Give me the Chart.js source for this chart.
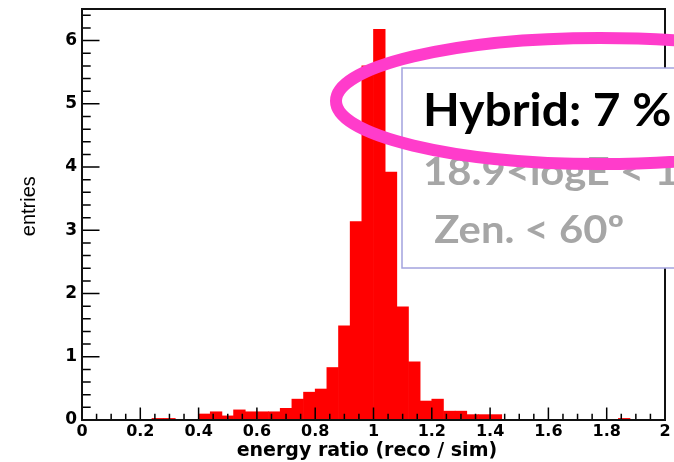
<!DOCTYPE html>
<html>
<head>
<meta charset="utf-8">
<script src="https://cdn.jsdelivr.net/npm/chart.js@4/dist/chart.umd.min.js"></script>
<style>
  html, body { margin: 0; padding: 0; background: #fff; }
  #wrap { width: 674px; height: 462px; position: relative; }
</style>
</head>
<body>
<div id="wrap"><canvas id="myChart"></canvas></div>
<script>
// bin centres of the histogram (bin width 0.04)
const binCenters = [
  0.02, 0.06, 0.10, 0.14, 0.18, 0.22, 0.26, 0.30, 0.34, 0.38,
  0.42, 0.46, 0.50, 0.54, 0.58, 0.62, 0.66, 0.70, 0.74, 0.78,
  0.82, 0.86, 0.90, 0.94, 0.98, 1.02, 1.06, 1.10, 1.14, 1.18,
  1.22, 1.26, 1.30, 1.34, 1.38, 1.42, 1.46, 1.50, 1.54, 1.58,
  1.62, 1.66, 1.70, 1.74, 1.78, 1.82, 1.86, 1.90, 1.94, 1.98,
];
const entries = [
  0, 0, 0, 0, 0, 0, 0.025, 0.025, 0, 0,
  0.095, 0.13, 0.065, 0.16, 0.13, 0.13, 0.13, 0.185, 0.33, 0.44,
  0.49, 0.83, 1.49, 3.14, 5.6, 6.18, 3.92, 1.79, 0.92, 0.30,
  0.33, 0.14, 0.14, 0.085, 0.085, 0.085, 0, 0, 0, 0,
  0, 0, 0, 0, 0, 0, 0.025, 0, 0, 0,
];
const xTitle = "energy ratio (reco / sim)\u00a0\u00a0";
const yTitle = "\u00a0\u00a0\u00a0entries";
const boxLines = ["Hybrid: 7 %", "18.9<logE < 19.1", " Zen. < 60º"];

// ROOT style frame + inward ticks
const rootFrame = {
  id: "rootFrame",
  afterDatasetsDraw(chart) {
    const { ctx, chartArea: a, scales } = chart;
    const xs = scales.x, ys = scales.y;
    ctx.save();
    ctx.strokeStyle = "#000";
    ctx.lineWidth = 1.5;
    ctx.beginPath();
    for (let k = 0; k <= 40; k++) {
      const px = xs.getPixelForValue(k * 0.05);
      const len = k % 4 === 0 ? 12.4 : 6.2;
      ctx.moveTo(px, a.bottom);
      ctx.lineTo(px, a.bottom - len);
    }
    for (let k = 0; k <= 32; k++) {
      const py = ys.getPixelForValue(k * 0.2);
      const len = k % 5 === 0 ? 17.5 : 8.7;
      ctx.moveTo(a.left, py);
      ctx.lineTo(a.left + len, py);
    }
    ctx.stroke();
    ctx.lineWidth = 2;
    ctx.strokeStyle = "#111";
    ctx.strokeRect(a.left, a.top, a.right - a.left, a.bottom - a.top);
    ctx.restore();
  },
  afterDraw(chart) {
    const ctx = chart.ctx;
    ctx.save();
    // text box
    ctx.fillStyle = "#fff";
    ctx.fillRect(402, 68, 300, 200);
    ctx.strokeStyle = "#a3a3de";
    ctx.lineWidth = 1.5;
    ctx.strokeRect(402, 68, 300, 200);
    ctx.textBaseline = "alphabetic";
    ctx.save();
    ctx.translate(423, 126);
    ctx.scale(1.04, 1);
    ctx.fillStyle = "#000";
    ctx.font = "bold 46px Lato";
    ctx.fillText(boxLines[0], 0, 0);
    ctx.restore();
    ctx.fillStyle = "#a6a6a6";
    ctx.font = "bold 38px Lato";
    ctx.save();
    ctx.translate(423, 185);
    ctx.scale(1.1, 1);
    ctx.fillText(boxLines[1], 0, 0);
    ctx.restore();
    ctx.save();
    ctx.translate(424, 243);
    ctx.scale(1.1, 1);
    ctx.fillText(boxLines[2], 0, 0);
    ctx.restore();
    // highlight ellipse
    ctx.strokeStyle = "#ff3ccb";
    ctx.lineWidth = 12;
    ctx.beginPath();
    ctx.ellipse(600, 101, 264, 63, 0, 0, Math.PI * 2);
    ctx.stroke();
    ctx.restore();
  },
};

new Chart("myChart", {
  type: "bar",
  data: {
    datasets: [
      {
        data: binCenters.map((c, i) => ({ x: c, y: entries[i] })),
        backgroundColor: "#ff0000",
        borderWidth: 0,
        barPercentage: 1,
        categoryPercentage: 1,
      },
    ],
  },
  options: {
    responsive: true,
    maintainAspectRatio: false,
    animation: false,
    devicePixelRatio: 1,
    layout: { padding: { top: 9, right: 9, left: 0, bottom: 0 } },
    plugins: { legend: { display: false }, tooltip: { enabled: false } },
    scales: {
      x: {
        type: "linear",
        min: 0,
        max: 2,
        offset: false,
        grid: { display: false, drawTicks: false },
        border: { display: false },
        ticks: {
          stepSize: 0.2,
          autoSkip: false,
          maxRotation: 0,
          padding: 2,
          color: "#000",
          font: { family: "DejaVu Sans", weight: "bold", size: 16 },
          callback: (v) => String(Number(v.toFixed(1))),
        },
        title: {
          display: true,
          text: xTitle,
          color: "#000",
          padding: { top: 0, bottom: 0 },
          font: { family: "DejaVu Sans", weight: "bold", size: 19 },
        },
        afterFit(scale) {
          scale.height = 42;
          scale.paddingLeft = 0;
          scale.paddingRight = 0;
        },
      },
      y: {
        min: 0,
        max: 6.5,
        grid: { display: false, drawTicks: false },
        border: { display: false },
        ticks: {
          stepSize: 1,
          padding: 5,
          color: "#000",
          font: { family: "DejaVu Sans", weight: "bold", size: 17 },
        },
        afterBuildTicks(scale) {
          scale.ticks = scale.ticks.filter((t) => Number.isInteger(t.value));
        },
        title: {
          display: true,
          text: yTitle,
          color: "#000",
          padding: { top: 17, bottom: 0 },
          font: { family: "'Liberation Sans Narrow', 'Liberation Sans'", size: 20 },
        },
        afterFit(scale) {
          scale.width = 82;
          scale.paddingTop = 0;
          scale.paddingBottom = 0;
        },
      },
    },
  },
  plugins: [rootFrame],
});
</script>
</body>
</html>
